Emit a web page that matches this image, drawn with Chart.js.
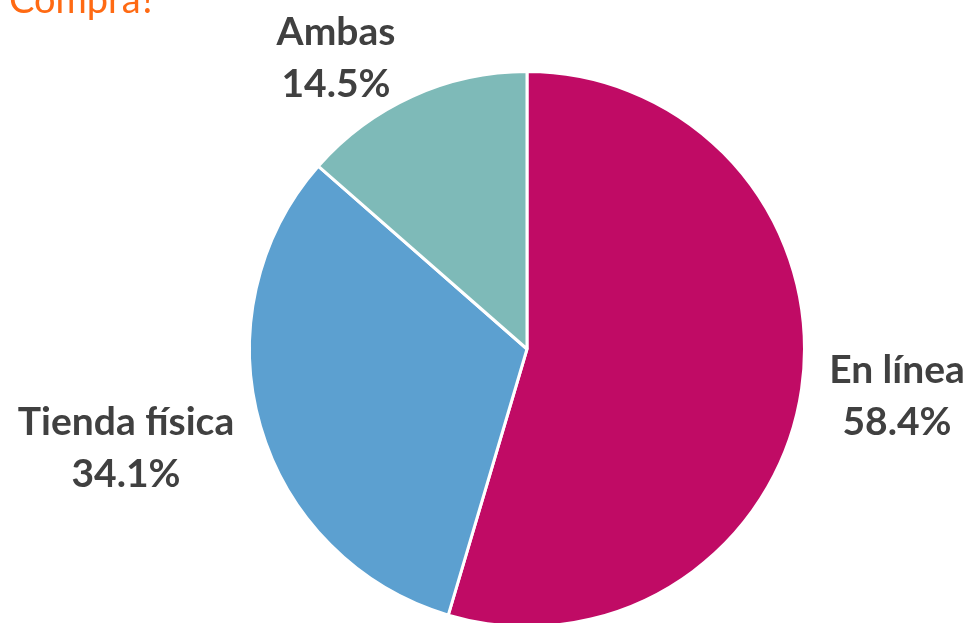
<!DOCTYPE html>
<html>
<head>
<meta charset="utf-8">
<script src="https://cdn.jsdelivr.net/npm/chart.js@4"></script>
<style>
  html, body { margin: 0; padding: 0; background: #fff; overflow: hidden; }
  #wrap { width: 972px; height: 628px; position: relative; }
</style>
</head>
<body>
<div id="wrap"><canvas id="pie_chart"></canvas></div>
<script>
const categories = ["En línea", "Tienda física", "Ambas"];
const shares = [58.4, 34.1, 14.5];
const sliceColours = ["#C00B65", "#5CA0D0", "#7EBAB8"];

// where each label sits (centre of the two-line block)
const labelSpots = [[897, 396], [126, 448], [336, 58]];

const labelPlugin = {
  id: "labels",
  afterDraw(chart) {
    const ctx = chart.ctx;
    ctx.save();
    // title, clipped at the top of the picture as in the reference
    ctx.fillStyle = "#FF6A13";
    ctx.font = "38px Lato";
    ctx.textAlign = "left";
    ctx.textBaseline = "alphabetic";
    ctx.fillText("Compra?", 9, 13);

    ctx.fillStyle = "#404040";
    ctx.font = "bold 39px Lato";
    ctx.textAlign = "center";
    ctx.textBaseline = "middle";
    categories.forEach((name, i) => {
      const [x, y] = labelSpots[i];
      ctx.fillText(name, x, y - 26);
      ctx.fillText(shares[i].toFixed(1) + "%", x, y + 26);
    });
    ctx.restore();
  }
};

function render_pie() {
  const graph = document.getElementById("pie_chart");
  return new Chart(graph, {
    type: "pie",
    data: {
      labels: categories,
      datasets: [{
        data: shares,
        backgroundColor: sliceColours,
        borderColor: "#FFFFFF",
        borderWidth: 3
      }]
    },
    options: {
      responsive: true,
      maintainAspectRatio: false,
      animation: false,
      layout: { padding: { top: 70, left: 82, right: 0, bottom: 0 } },
      plugins: {
        legend: { display: false },
        tooltip: { enabled: false }
      }
    },
    plugins: [labelPlugin]
  });
}

render_pie();
</script>
</body>
</html>
